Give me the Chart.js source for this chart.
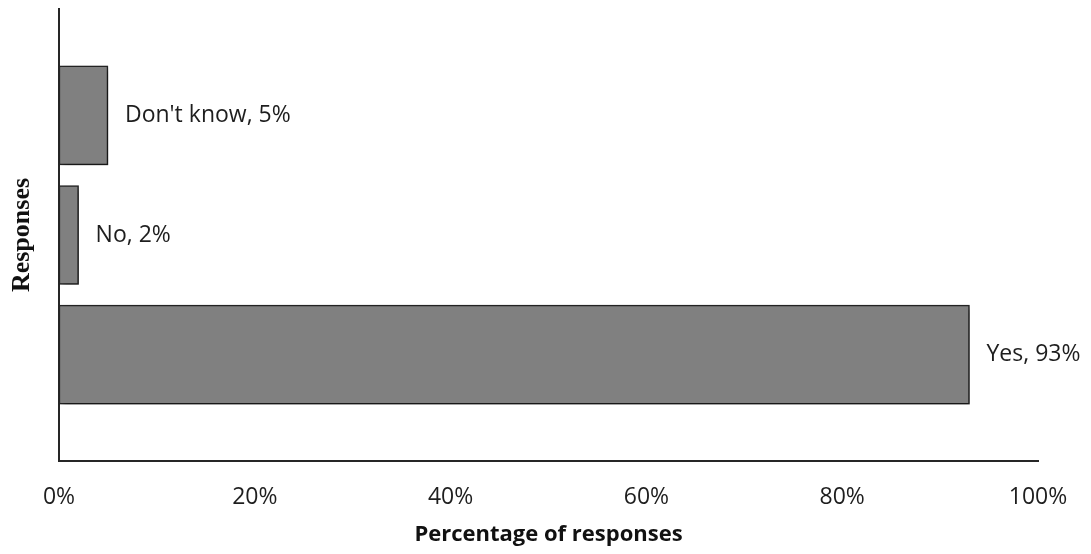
<!DOCTYPE html>
<html>
<head>
<meta charset="utf-8">
<script src="https://cdn.jsdelivr.net/npm/chart.js@4/dist/chart.umd.min.js"></script>
<style>
  html, body { margin: 0; padding: 0; background: #ffffff; }
  #wrap { width: 1091px; height: 554px; }
</style>
</head>
<body>
<div id="wrap"><canvas id="c" width="1091" height="554"></canvas></div>
<script>
// Survey responses, bottom to top
const categories = ["Yes", "No", "Don't know"];
const percentages = [93, 2, 5];
const xTickValues = [0, 20, 40, 60, 80, 100];

const textFont = "'Open Sans', Lato, sans-serif";

// Drop shadow under the bars
const barShadow = {
  id: 'barShadow',
  beforeDatasetsDraw(chart) {
    const ctx = chart.ctx;
    ctx.save();
    ctx.shadowColor = 'rgba(0,0,0,0.45)';
    ctx.shadowBlur = 6;
    ctx.shadowOffsetX = 3;
    ctx.shadowOffsetY = 3;
  },
  afterDatasetsDraw(chart) {
    chart.ctx.restore();
  }
};

// "Category, value%" label to the right of each bar
const valueLabels = {
  id: 'valueLabels',
  afterDraw(chart) {
    const ctx = chart.ctx;
    const meta = chart.getDatasetMeta(0);
    ctx.save();
    ctx.font = "23px " + textFont;
    ctx.fillStyle = '#1e1e1e';
    ctx.textAlign = 'left';
    ctx.textBaseline = 'middle';
    meta.data.forEach((bar, i) => {
      ctx.fillText(categories[i] + ', ' + percentages[i] + '%', bar.x + 17, bar.y);
    });
    ctx.restore();
  }
};

new Chart(document.getElementById('c'), {
  type: 'bar',
  data: {
    datasets: [{
      data: percentages.map((v, i) => ({ x: v, y: i })),
      backgroundColor: '#808080',
      borderColor: '#262626',
      borderWidth: 1.5,
      borderSkipped: false,
      barThickness: 99
    }]
  },
  options: {
    indexAxis: 'y',
    responsive: false,
    animation: false,
    layout: { padding: { top: 9, right: 53, left: 0, bottom: 0 } },
    plugins: {
      legend: { display: false },
      tooltip: { enabled: false }
    },
    scales: {
      x: {
        type: 'linear',
        min: 0,
        max: 100,
        afterBuildTicks(scale) {
          scale.ticks = xTickValues.map(v => ({ value: v }));
        },
        afterFit(scale) { scale.height = 93; },
        grid: { display: false, drawTicks: false },
        border: { display: true, color: '#262626', width: 2 },
        ticks: {
          padding: 23,
          color: '#1e1e1e',
          font: { family: textFont, size: 23 },
          callback: v => v + '%',
          maxRotation: 0
        },
        title: {
          display: true,
          text: 'Percentage of responses',
          color: '#111111',
          font: { family: textFont, size: 22, weight: 'bold' },
          padding: { top: 0, bottom: 6 }
        }
      },
      y: {
        type: 'linear',
        offset: false,
        min: -0.89,
        max: 2.89,
        afterFit(scale) { scale.width = 59; },
        grid: { display: false, drawTicks: false, offset: false },
        border: { display: true, color: '#262626', width: 2 },
        ticks: { display: false },
        title: {
          display: true,
          text: 'Responses',
          color: '#111111',
          font: { family: "'Liberation Serif', 'DejaVu Serif', serif", size: 26, weight: 'bold' },
          padding: { top: 7, bottom: 0 }
        }
      }
    }
  },
  plugins: [barShadow, valueLabels]
});
</script>
</body>
</html>
